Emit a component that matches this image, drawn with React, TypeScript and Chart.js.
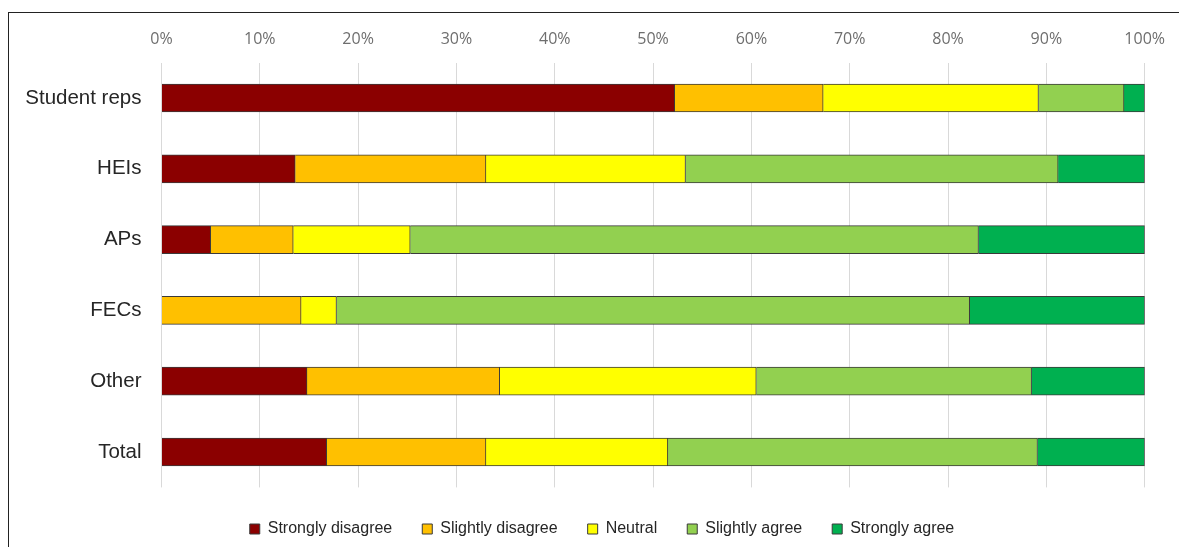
import React, { useEffect, useRef } from "react";
import { Chart, registerables } from "chart.js";

Chart.register(...registerables);

const categories = ["Student reps", "HEIs", "APs", "FECs", "Other", "Total"];
const seriesNames = ["Strongly disagree", "Slightly disagree", "Neutral", "Slightly agree", "Strongly agree"];
const stronglyDisagree = [52.2, 13.6, 5.0, 0, 14.8, 16.8];
const slightlyDisagree = [15.1, 19.4, 8.4, 14.2, 19.6, 16.2];
const neutral = [21.9, 20.3, 11.9, 3.6, 26.1, 18.5];
const slightlyAgree = [8.7, 37.9, 57.8, 64.4, 28.0, 37.6];
const stronglyAgree = [2.1, 8.8, 16.9, 17.8, 11.5, 10.9];
const seriesColors = ["#8B0000", "#FFC000", "#FFFF00", "#92D050", "#00B050"];
const tickValues = [0, 10, 20, 30, 40, 50, 60, 70, 80, 90, 100];

export default function App() {
  const ref = useRef<HTMLCanvasElement | null>(null);

  useEffect(() => {
    if (!ref.current) return;
    const values = [stronglyDisagree, slightlyDisagree, neutral, slightlyAgree, stronglyAgree];
    const chart = new Chart(ref.current, {
      type: "bar",
      data: {
        labels: categories,
        datasets: values.map((v, i) => ({
          label: seriesNames[i],
          data: v,
          backgroundColor: seriesColors[i],
          borderColor: "#3a3a3a",
          borderWidth: 1,
          barThickness: 28,
        })),
      },
      options: {
        indexAxis: "y",
        animation: false,
        responsive: true,
        maintainAspectRatio: false,
        layout: { padding: { left: 25, right: 0, top: 0, bottom: 0 } },
        scales: {
          x: {
            type: "linear",
            position: "top",
            stacked: true,
            min: 0,
            max: 100,
            afterBuildTicks: (s: any) => {
              s.ticks = tickValues.map((v) => ({ value: v }));
            },
            afterFit: (s: any) => {
              s.height = 62.6;
            },
            ticks: {
              padding: 14,
              color: "#6e6e6e",
              font: { family: "'Open Sans', sans-serif", size: 16 },
              callback: (v: any) => v + "%",
            },
            grid: { color: "#d9d9d9", lineWidth: 1, drawTicks: false },
            border: { display: false },
          },
          xBottom: {
            type: "linear",
            position: "bottom",
            display: true,
            afterFit: (s: any) => {
              s.height = 3.6;
            },
            ticks: { display: false },
            grid: { display: false, drawTicks: false },
            border: { display: false },
          },
          y: {
            stacked: true,
            afterFit: (s: any) => {
              s.width = 136.5;
            },
            ticks: {
              padding: 20,
              color: "#262626",
              font: { family: "'Liberation Sans', Arial, sans-serif", size: 20.5 },
            },
            grid: { display: false, drawTicks: false },
            border: { display: false },
          },
          yRight: {
            type: "linear",
            position: "right",
            display: true,
            afterFit: (s: any) => {
              s.width = 31.5;
            },
            ticks: { display: false },
            grid: { display: false, drawTicks: false },
            border: { display: false },
          },
        },
        plugins: {
          legend: {
            position: "bottom",
            labels: {
              boxWidth: 10,
              boxHeight: 10,
              padding: 30,
              color: "#262626",
              font: { family: "'Liberation Sans', Arial, sans-serif", size: 16 },
            },
          },
          tooltip: { enabled: false },
        },
      },
    });
    return () => chart.destroy();
  }, []);

  return (
    <div style={{ position: "fixed", left: 0, top: 0, width: 1179, height: 547, background: "#fff", overflow: "hidden" }}>
      <div
        style={{
          position: "absolute",
          left: 8,
          top: 12,
          width: 1300,
          height: 700,
          borderLeft: "1px solid #222",
          borderTop: "1px solid #222",
        }}
      />
      <canvas ref={ref} style={{ position: "absolute", left: 0, top: 0, width: 1179, height: 547 }} />
    </div>
  );
}
